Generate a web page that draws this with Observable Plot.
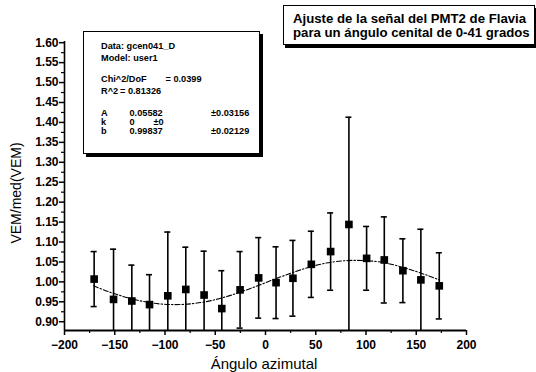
<!DOCTYPE html>
<html>
<head>
<meta charset="utf-8">
<script src="https://cdn.jsdelivr.net/npm/d3@7"></script>
<script src="https://cdn.jsdelivr.net/npm/@observablehq/plot@0.6"></script>
<style>
  html, body { margin: 0; padding: 0; background: white; }
  #wrap { position: relative; width: 536px; height: 372px; overflow: hidden; font-family: 'Liberation Sans', Arial, sans-serif; color: black; }
  .t { position: absolute; white-space: nowrap; line-height: 1; transform: translateY(-50%); }
  .box { position: absolute; background: white; border: 1px solid black; box-sizing: border-box; }
</style>
</head>
<body>
<div id="wrap"></div>
<script>
// Data points (azimuthal angle, normalized VEM, error)
const xAz  = [-170.5, -151.2, -133, -115.4, -97.2, -79.3, -61.1, -43.5, -25.3, -6.8, 10.5, 27.3, 45.6, 64.8, 83, 100.6, 118.2, 136.7, 154.6, 172.9];
const vem  = [1.007, 0.956, 0.952, 0.943, 0.965, 0.981, 0.967, 0.933, 0.980, 1.010, 0.998, 1.009, 1.044, 1.076, 1.144, 1.059, 1.055, 1.028, 1.005, 0.990];
const err  = [0.069, 0.126, 0.090, 0.075, 0.160, 0.106, 0.110, 0.095, 0.096, 0.101, 0.090, 0.095, 0.083, 0.097, 0.269, 0.080, 0.108, 0.080, 0.127, 0.083];

// Fit curve
const fitX = [-171, -150, -120, -90, -60, -30, 0, 30, 60, 90, 120, 150, 173];
const fitY = [0.990, 0.970, 0.950, 0.943, 0.950, 0.970, 0.998, 1.026, 1.047, 1.054, 1.047, 1.026, 1.005];

// Ticks
const xTicks = [-200, -150, -100, -50, 0, 50, 100, 150, 200];
const xMinor = [-175, -125, -75, -25, 25, 75, 125, 175];
const yTicks = [0.90, 0.95, 1.00, 1.05, 1.10, 1.15, 1.20, 1.25, 1.30, 1.35, 1.40, 1.45, 1.50, 1.55, 1.60];
const yMinor = [0.925, 0.975, 1.025, 1.075, 1.125, 1.175, 1.225, 1.275, 1.325, 1.375, 1.425, 1.475, 1.525, 1.575];

const xDomain = [-200, 200];
const yDomain = [0.878, 1.603];

// Texts
const titleLines = ["Ajuste de la señal del PMT2 de Flavia", "para un ángulo cenital de 0-41 grados"];
const xLabel = "Ángulo azimutal";
const yLabel = "VEM/med(VEM)";
const legendRows = [
  ["Data: gcen041_D", 101, 47],
  ["Model: user1", 101, 58.5],
  ["Chi^2/DoF", 101, 80], ["= 0.0399", 165.5, 80],
  ["R^2", 101, 91.5], ["= 0.81326", 120, 91.5],
  ["A", 101, 113.5], ["0.05582", 129.5, 113.5], ["±0.03156", 211, 113.5],
  ["k", 101, 122.5], ["0", 129.5, 122.5], ["±0", 153.5, 122.5],
  ["b", 101, 131.5], ["0.99837", 129.5, 131.5], ["±0.02129", 211, 131.5]
];

const pts = xAz.map((x, i) => ({x, y: vem[i], lo: vem[i] - err[i], hi: vem[i] + err[i]}));
const fit = fitX.map((x, i) => ({x, y: fitY[i]}));

const plot = Plot.plot({
  width: 536,
  height: 372,
  marginLeft: 64,
  marginRight: 70,
  marginTop: 41,
  marginBottom: 42,
  style: {fontFamily: "'Liberation Sans', Arial, sans-serif", fontSize: "12px", fontWeight: "bold", background: "white", color: "black", overflow: "visible"},
  x: {domain: xDomain},
  y: {domain: yDomain},
  marks: [
    Plot.axisX({ticks: xTicks, tickSize: 5, tickPadding: 5, label: null, strokeWidth: 1.5, fontSize: 12, fontWeight: "bold"}),
    Plot.axisX({ticks: xMinor, tickSize: 3, tickFormat: () => "", label: null, strokeWidth: 1.2}),
    Plot.axisY({ticks: yTicks, tickSize: 5, tickPadding: 1, tickFormat: d3.format(".2f"), label: null, strokeWidth: 1.5, fontSize: 12, fontWeight: "bold"}),
    Plot.axisY({ticks: yMinor, tickSize: 3, tickFormat: () => "", label: null, strokeWidth: 1.2}),
    Plot.line(fit, {x: "x", y: "y", stroke: "black", strokeWidth: 1.1, strokeDasharray: "5,2,1.5,2", curve: "natural"}),
    Plot.ruleX(pts, {x: "x", y1: "lo", y2: "hi", stroke: "black", strokeWidth: 1.6, clip: true}),
    Plot.ruleY(pts.filter(d => d.hi <= yDomain[1]), {y: "hi", x1: d => d.x - 3, x2: d => d.x + 3, stroke: "black", strokeWidth: 1.6}),
    Plot.ruleY(pts.filter(d => d.lo >= yDomain[0]), {y: "lo", x1: d => d.x - 3, x2: d => d.x + 3, stroke: "black", strokeWidth: 1.6}),
    Plot.dot(pts, {x: "x", y: "y", symbol: "square", r: 4.3, fill: "black", stroke: "none"}),
    Plot.ruleY([yDomain[0]], {x1: xDomain[0], x2: xDomain[1], stroke: "black", strokeWidth: 2}),
    Plot.ruleX([xDomain[0]], {y1: yDomain[0], y2: yDomain[1], stroke: "black", strokeWidth: 1.6})
  ]
});

const wrap = document.getElementById("wrap");
wrap.appendChild(plot);

function addText(str, x, y, size, weight, extra) {
  const s = document.createElement("div");
  s.className = "t";
  s.textContent = str;
  s.style.left = x + "px";
  s.style.top = y + "px";
  s.style.fontSize = size + "px";
  s.style.fontWeight = weight;
  if (extra) Object.assign(s.style, extra);
  wrap.appendChild(s);
  return s;
}

// Axis labels
addText(xLabel, 264, 363, 15, "normal", {transform: "translate(-50%, -50%)"});
addText(yLabel, 16, 193, 14, "normal", {transform: "translate(-50%, -50%) rotate(-90deg)"});

// Legend box
const lb = document.createElement("div");
lb.className = "box";
Object.assign(lb.style, {left: "83px", top: "31px", width: "177px", height: "123px", boxShadow: "3px 3px 0 black"});
wrap.appendChild(lb);
legendRows.forEach(([s, x, y]) => addText(s, x, y, 9.2, "bold"));

// Title box
const tb = document.createElement("div");
tb.className = "box";
Object.assign(tb.style, {left: "283px", top: "5px", width: "252px", height: "40px", boxShadow: "2px 3px 0 black", borderWidth: "1.5px"});
wrap.appendChild(tb);
addText(titleLines[0], 293, 19, 13.2, "bold");
addText(titleLines[1], 293, 33, 13.2, "bold");
</script>
</body>
</html>
